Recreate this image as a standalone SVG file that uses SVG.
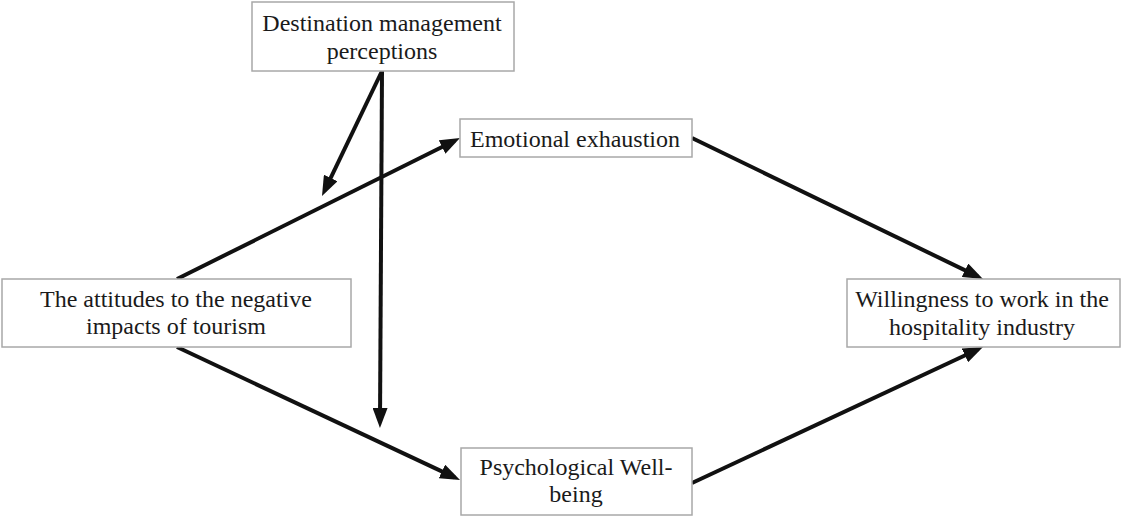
<svg xmlns="http://www.w3.org/2000/svg" width="1122" height="518" viewBox="0 0 1122 518">
<style>
.box{fill:#fff;stroke:#a8a8a8;stroke-width:1.5}
.lbl{font-family:"Liberation Serif","Times New Roman",serif;font-size:24px;fill:#1a1a1a;text-anchor:middle}
.conn{stroke:#111;stroke-width:4;fill:none;marker-end:url(#ah)}
</style>
<defs>
<marker id="ah" markerUnits="userSpaceOnUse" markerWidth="20" markerHeight="15" refX="14" refY="7.5" orient="auto">
<path d="M0,0 L20,7.5 L0,15 z" fill="#111"/>
</marker>
</defs>
<rect width="1122" height="518" fill="#fff"/>
<g id="connectors">
<line class="conn" x1="177" y1="279" x2="454.6" y2="140.7"/>
<line class="conn" x1="177" y1="347" x2="454.6" y2="477.4"/>
<line class="conn" x1="692" y1="138" x2="977.6" y2="276.4"/>
<line class="conn" x1="692" y1="483" x2="977.6" y2="349.5"/>
<line class="conn" x1="382" y1="71" x2="380" y2="422"/>
<line class="conn" x1="382" y1="71" x2="324.6" y2="190.6"/>
</g>
<g id="destination">
<rect class="box" x="252" y="2" width="262" height="69"/>
<text class="lbl" x="382" y="31">Destination management</text>
<text class="lbl" x="382" y="59">perceptions</text>
</g>
<g id="attitudes">
<rect class="box" x="2" y="279" width="349" height="68"/>
<text class="lbl" x="176" y="307">The attitudes to the negative</text>
<text class="lbl" x="176" y="334">impacts of tourism</text>
</g>
<g id="emotional">
<rect class="box" x="460" y="119" width="232" height="38"/>
<text class="lbl" x="575" y="147">Emotional exhaustion</text>
</g>
<g id="psychological">
<rect class="box" x="461" y="448" width="231" height="67"/>
<text class="lbl" x="576" y="475">Psychological Well-</text>
<text class="lbl" x="576" y="502">being</text>
</g>
<g id="willingness">
<rect class="box" x="847" y="279" width="273" height="68"/>
<text class="lbl" x="982" y="307">Willingness to work in the</text>
<text class="lbl" x="982" y="335">hospitality industry</text>
</g>
</svg>
